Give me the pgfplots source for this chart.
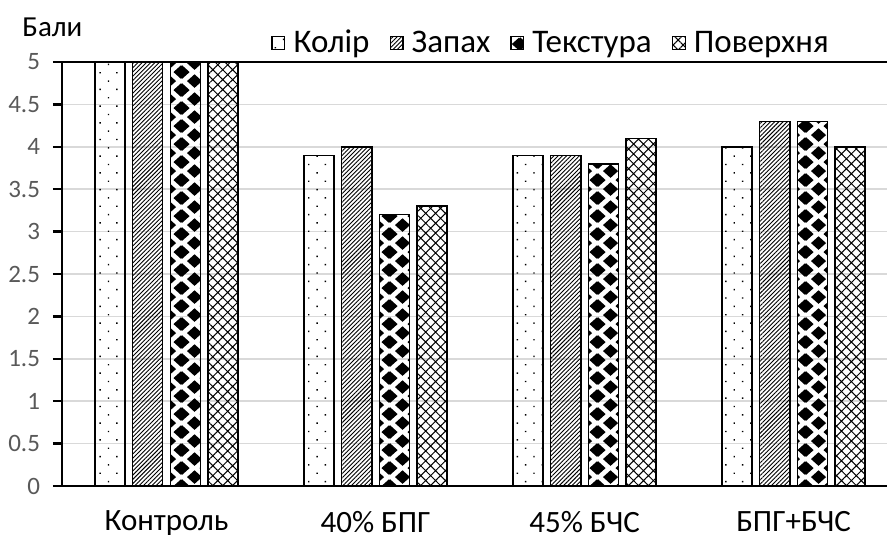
\documentclass[border=0pt]{standalone}
\usepackage{pgfplots}
\pgfplotsset{compat=1.18}
\usepackage{fontspec}
\setmainfont{Carlito}
\usetikzlibrary{patterns,patterns.meta}
\definecolor{tk}{HTML}{595959}
\definecolor{gr}{HTML}{D9D9D9}

\tikzdeclarepattern{
  name=Diam,
  type=colored,
  bounding box={(0pt,0pt) and (13pt,9.2pt)},
  tile size={(13pt,9.2pt)},
  code={
    \fill[black] (-3.9pt,0pt) -- (0pt,3.5pt) -- (3.9pt,0pt) -- (0pt,-3.5pt) -- cycle;
    \fill[black] (9.1pt,0pt) -- (13pt,3.5pt) -- (16.9pt,0pt) -- (13pt,-3.5pt) -- cycle;
    \fill[black] (-3.9pt,9.2pt) -- (0pt,12.7pt) -- (3.9pt,9.2pt) -- (0pt,5.7pt) -- cycle;
    \fill[black] (9.1pt,9.2pt) -- (13pt,12.7pt) -- (16.9pt,9.2pt) -- (13pt,5.7pt) -- cycle;
    \fill[black] (2.6pt,4.6pt) -- (6.5pt,8.1pt) -- (10.4pt,4.6pt) -- (6.5pt,1.1pt) -- cycle;
  }
}

\begin{document}
\begin{tikzpicture}
\begin{axis}[
  name=ax, at={(0,0)}, anchor=south west,
  scale only axis, width=412.5pt, height=212pt,
  ymin=0, ymax=5, xmin=-0.5, xmax=3.447,
  ybar, bar width=0.144,
  axis x line*=bottom, axis y line*=left,
  axis line style={line width=1.25pt, -},
  xtick={0,1,2,3},
  xticklabels={Контроль,40\% БПГ,45\% БЧС,БПГ+БЧС},
  x tick style={draw=none},
  xticklabel style={font=\fontsize{15.5}{18}\selectfont, yshift=-4.5pt},
  ytick={0,0.5,...,5},
  y tick style={line width=1.25pt, black},
  tick align=outside, major tick length=4.5pt,
  yticklabel style={font=\fontsize{12.5}{14}\selectfont, text=tk, xshift=-3pt},
  /pgf/number format/assume math mode=true,
  ymajorgrids, grid style={gr, line width=0.75pt},
  legend style={draw=none, fill=none, at={(axis description cs:0.594,1.045)}, anchor=center,
    font=\fontsize{16.5}{18}\selectfont, legend columns=4,
    /tikz/every even column/.append style={column sep=8pt}},
  legend image code/.code={\draw[#1, line width=0.6pt] (0pt,-3.2pt) rectangle (6.4pt,3.2pt); \path (8.4pt,0pt);},
  legend cell align=left,
]
\addplot[draw=black, line width=0.75pt, bar shift=-0.27,
  pattern={Dots[angle=45, distance=5.9pt, radius=0.5pt]}]
  coordinates {(0,5) (1,3.9) (2,3.9) (3,4.0)};
\addplot[draw=black, line width=0.75pt, bar shift=-0.09,
  pattern={Lines[angle=45, distance=1.5pt, line width=0.45pt]}]
  coordinates {(0,5) (1,4.0) (2,3.9) (3,4.3)};
\addplot[draw=black, line width=0.75pt, bar shift=0.09,
  pattern=Diam]
  coordinates {(0,5) (1,3.2) (2,3.8) (3,4.3)};
\addplot[draw=black, line width=0.75pt, bar shift=0.27,
  pattern={Hatch[angle=45, distance=3.5pt, line width=0.5pt]}]
  coordinates {(0,5) (1,3.3) (2,4.1) (3,4.0)};
\legend{Колір,Запах,Текстура,Поверхня}
\end{axis}
\draw[line width=1.25pt] (ax.north west) -- (ax.north east);
\node[anchor=west, inner sep=0pt, font=\fontsize{14.5}{16}\selectfont] at ([xshift=-20pt,yshift=17.5pt]ax.north west) {Бали};
\pgfresetboundingbox
\path[use as bounding box] (ax.south west) ++(-31pt,-27pt) rectangle ++(443.5pt,270pt);
\end{tikzpicture}
\end{document}
